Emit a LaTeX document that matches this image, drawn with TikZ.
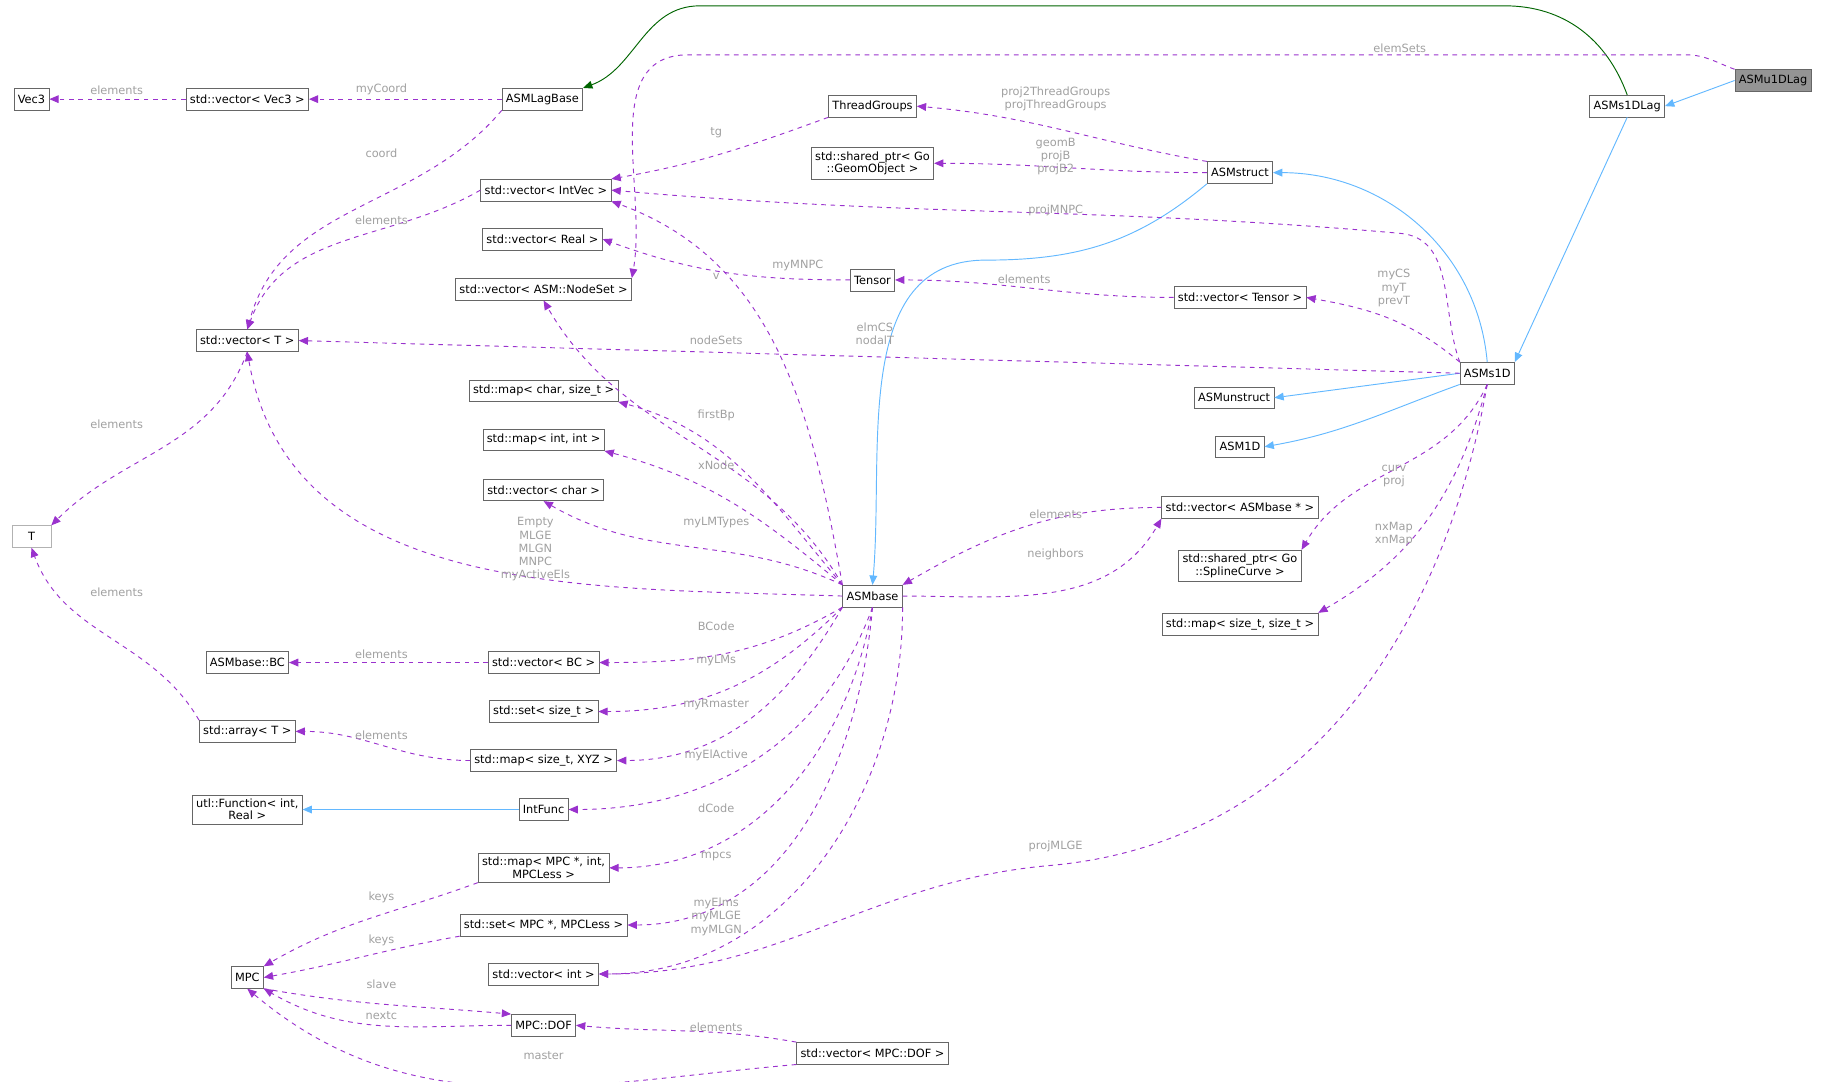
\documentclass[tikz,border=0pt]{standalone}
\usepackage{fontspec}
\setmainfont{DejaVu Sans}
\usetikzlibrary{arrows.meta}
\definecolor{pur}{HTML}{9A32CD}
\definecolor{blu}{HTML}{63B8FF}
\definecolor{grn}{HTML}{006400}
\definecolor{lab}{HTML}{A0A0A0}
\begin{document}
\begin{tikzpicture}[x=0.75pt,y=0.75pt,
 box/.style={draw=black!60,fill=white,font=\fontsize{7.3}{8}\selectfont,inner sep=2.5pt,minimum height=14pt,align=center},
 dep/.style={pur,dashed,line width=0.6pt,-{Triangle[length=6pt,width=5pt]}},
 inh/.style={blu,line width=0.6pt,-{Triangle[length=6pt,width=5pt]}},
 lb/.style={lab,font=\fontsize{7.3}{8.5}\selectfont,align=center,inner sep=0pt}]
\useasboundingbox (0,0) rectangle (1568,-927);
% nodes
\node[box,fill=black!42] (u1d) at (1520,-69) {ASMu1DLag};
\node[box] (s1dlag) at (1395,-91) {ASMs1DLag};
\node[box] (lagbase) at (465,-85) {ASMLagBase};
\node[box] (vvec3) at (212,-85) {std::vector< Vec3 >};
\node[box] (vec3) at (27,-85) {Vec3};
\node[box] (tg) at (748,-91) {ThreadGroups};
\node[box] (geom) at (748,-140) {std::shared\_ptr< Go\\::GeomObject >};
\node[box] (struct) at (1063,-148) {ASMstruct};
\node[box] (vint) at (468,-163) {std::vector< IntVec >};
\node[box] (vreal) at (465,-205) {std::vector< Real >};
\node[box] (tensor) at (748,-240) {Tensor};
\node[box] (vns) at (466,-248) {std::vector< ASM::NodeSet >};
\node[box] (vtensor) at (1063,-255) {std::vector< Tensor >};
\node[box] (vT) at (212,-292) {std::vector< T >};
\node[box] (s1d) at (1275,-320) {ASMs1D};
\node[box] (unstr) at (1058,-341) {ASMunstruct};
\node[box] (a1d) at (1063,-383) {ASM1D};
\node[box] (mchar) at (466,-335) {std::map< char, size\_t >};
\node[box] (mint) at (466,-377) {std::map< int, int >};
\node[box] (vchar) at (466,-420) {std::vector< char >};
\node[box,draw=black!30,minimum width=25pt] (T) at (27,-460) {T};
\node[box] (vab) at (1063,-435) {std::vector< ASMbase * >};
\node[box] (spline) at (1063,-485) {std::shared\_ptr< Go\\::SplineCurve >};
\node[box] (base) at (748,-511) {ASMbase};
\node[box] (mss) at (1063,-535) {std::map< size\_t, size\_t >};
\node[box] (bc) at (212,-568) {ASMbase::BC};
\node[box] (vbc) at (466,-568) {std::vector< BC >};
\node[box] (sst) at (466,-610) {std::set< size\_t >};
\node[box] (arr) at (212,-627) {std::array< T >};
\node[box] (mxyz) at (466,-652) {std::map< size\_t, XYZ >};
\node[box] (ifunc) at (466,-694) {IntFunc};
\node[box] (ufunc) at (212,-694) {utl::Function< int,\\Real >};
\node[box] (mmpc) at (466,-744) {std::map< MPC *, int,\\MPCLess >};
\node[box] (smpc) at (466,-793) {std::set< MPC *, MPCLess >};
\node[box] (mpc) at (212,-838) {MPC};
\node[box] (vi) at (466,-835) {std::vector< int >};
\node[box] (dof) at (466,-879) {MPC::DOF};
\node[box] (vdof) at (748,-903) {std::vector< MPC::DOF >};
% waypoints
\coordinate (wA) at (1290,-5);
\coordinate (wB) at (600,-5);
\coordinate (wC) at (1445,-47);
\coordinate (wD) at (590,-47);
\coordinate (wE) at (845,-223);
\coordinate (wF) at (1200,-200);
\coordinate (wG) at (900,-742);
% inheritance
\draw[inh] (u1d.west) -- (s1dlag.east);
\draw[grn,line width=0.6pt,-{Triangle[length=6pt,width=5pt]}] (s1dlag.north) to[out=110,in=0] (wA) -- (wB) to[out=180,in=20] (lagbase.north east);
\draw[inh] (s1dlag.south) -- (s1d.north east);
\draw[inh] (s1d.north) to[out=95,in=0] (struct.east);
\draw[inh] (struct.south west) to[out=-140,in=0] (wE) to[out=180,in=85] (base.north);
\draw[inh] (s1d.west) -- (unstr.east);
\draw[inh] (s1d.south west) to[out=-160,in=10] (a1d.east);
\draw[inh] (ifunc.west) -- (ufunc.east);
% dependencies
\draw[dep] (u1d.north west) to[out=160,in=0] (wC) -- (wD) to[out=180,in=80] (vns.north east);
\node[lb] (l1) at (1200,-41) {elemSets};
\draw[dep] (lagbase.west) -- (vvec3.east); \node[lb] (l2) at (327,-77) {myCoord};
\draw[dep] (vvec3.west) -- (vec3.east); \node[lb] (l3) at (100,-77) {elements};
\draw[dep] (lagbase.south west) to[out=-130,in=75] (vT.north); \node[lb] (l4) at (327,-131) {coord};
\draw[dep] (vint.west) to[out=-150,in=70] (vT.north); \node[lb] (l5) at (327,-189) {elements};
\draw[dep] (tg.south west) to[out=-160,in=10] (vint.north east); \node[lb] (l6) at (614,-114) {tg};
\draw[dep] (struct.north west) to[out=170,in=-5] (tg.east); \node[lb] (l7) at (905,-85) {proj2ThreadGroups\\projThreadGroups};
\draw[dep] (struct.west) to[out=180,in=0] (geom.east); \node[lb] (l8) at (905,-134) {geomB\\projB\\projB2};
\draw[dep] (s1d.north west) to[out=110,in=-5] (wF) to[out=175,in=-5] (vint.east); \node[lb] (l9) at (905,-180) {projMNPC};
\draw[dep] (tensor.west) to[out=180,in=-20] (vreal.east); \node[lb] (l10) at (614,-237) {v};
\draw[dep] (vtensor.west) to[out=180,in=0] (tensor.east); \node[lb] (l11) at (878,-239) {elements};
\draw[dep] (s1d.north west) to[out=140,in=-10] (vtensor.east); \node[lb] (l12) at (1195,-247) {myCS\\myT\\prevT};
\draw[dep] (s1d.west) -- (vT.east); \node[lb] (l13) at (750,-286) {elmCS\\nodalT};
\draw[dep] (vT.south) to[out=-110,in=45] (T.north east); \node[lb] (l14) at (100,-364) {elements};
\draw[dep] (base.north west) to[out=100,in=-20] (vint.south east); \node[lb] (l15) at (684,-228) {myMNPC};
\draw[dep] (base.north west) to[out=120,in=-60] (vns.south); \node[lb] (l16) at (614,-292) {nodeSets};
\draw[dep] (base.north west) to[out=130,in=-15] (mchar.south east); \node[lb] (l17) at (614,-356) {firstBp};
\draw[dep] (base.north west) to[out=140,in=-15] (mint.south east); \node[lb] (l18) at (614,-399) {xNode};
\draw[dep] (base.north west) to[out=155,in=-30] (vchar.south); \node[lb] (l19) at (614,-448) {myLMTypes};
\draw[dep] (base.west) to[out=178,in=-80] (vT.south); \node[lb] (l20) at (459,-471) {Empty\\MLGE\\MLGN\\MNPC\\myActiveEls};
\draw[dep] (vab.west) to[out=180,in=30] (base.north east); \node[lb] (l21) at (905,-441) {elements};
\draw[dep] (base.east) to[out=0,in=-120] (vab.south west); \node[lb] (l22) at (905,-475) {neighbors};
\draw[dep] (s1d.south) to[out=-115,in=60] (spline.north east); \node[lb] (l23) at (1195,-408) {curv\\proj};
\draw[dep] (s1d.south) to[out=-105,in=30] (mss.north east); \node[lb] (l24) at (1195,-458) {nxMap\\xnMap};
\draw[dep] (s1d.south) to[out=-100,in=5] (wG) to[out=185,in=0] (vi.east); \node[lb] (l25) at (905,-726) {projMLGE};
\draw[dep] (base.south west) to[out=-150,in=0] (vbc.east); \node[lb] (l26) at (614,-537) {BCode};
\draw[dep] (base.south west) to[out=-135,in=0] (sst.east); \node[lb] (l27) at (614,-566) {myLMs};
\draw[dep] (base.south west) to[out=-120,in=0] (mxyz.east); \node[lb] (l28) at (614,-604) {myRmaster};
\draw[dep] (base.south) to[out=-110,in=0] (ifunc.east); \node[lb] (l29) at (614,-648) {myElActive};
\draw[dep] (base.south) to[out=-100,in=0] (mmpc.east); \node[lb] (l30) at (614,-693) {dCode};
\draw[dep] (base.south) to[out=-95,in=0] (smpc.east); \node[lb] (l31) at (614,-734) {mpcs};
\draw[dep] (base.south east) to[out=-90,in=0] (vi.east); \node[lb] (l32) at (614,-786) {myElms\\myMLGE\\myMLGN};
\draw[dep] (vbc.west) -- (bc.east); \node[lb] (l33) at (327,-561) {elements};
\draw[dep] (mxyz.west) to[out=180,in=0] (arr.east); \node[lb] (l34) at (327,-630) {elements};
\draw[dep] (arr.north west) to[out=120,in=-70] (T.south); \node[lb] (l35) at (100,-508) {elements};
\draw[dep] (mmpc.south west) to[out=-160,in=30] (mpc.north east); \node[lb] (l36) at (327,-769) {keys};
\draw[dep] (smpc.south west) to[out=-170,in=10] (mpc.east); \node[lb] (l37) at (327,-806) {keys};
\draw[dep] (mpc.south east) to[out=-10,in=175] (dof.north west); \node[lb] (l38) at (327,-844) {slave};
\draw[dep] (dof.west) to[out=180,in=-30] (mpc.south east); \node[lb] (l39) at (327,-871) {nextc};
\draw[dep] (vdof.south west) to[out=185,in=-40] (mpc.south); \node[lb] (l40) at (466,-905) {master};
\draw[dep] (vdof.north west) to[out=170,in=-5] (dof.east); \node[lb] (l41) at (614,-881) {elements};
\end{tikzpicture}
\end{document}
